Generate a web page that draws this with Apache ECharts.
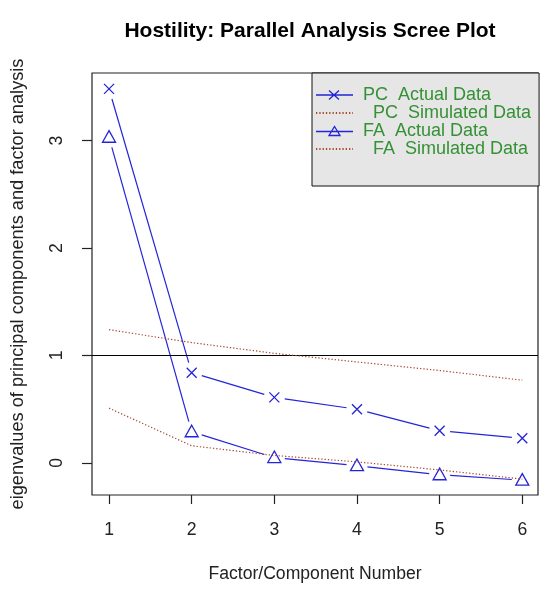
<!DOCTYPE html>
<html>
<head>
<meta charset="utf-8">
<script src="https://cdn.jsdelivr.net/npm/echarts@6/dist/echarts.min.js"></script>
<style>html,body{margin:0;padding:0;background:#fff}#c{width:550px;height:592px}</style>
</head>
<body>
<div id="c"></div>
<script>
const factors = [1, 2, 3, 4, 5, 6];
const pcActual = [3.48, 0.84, 0.61, 0.50, 0.30, 0.23];
const pcSimulated = [1.24, 1.12, 1.02, 0.94, 0.86, 0.77];
const faActual = [3.03, 0.29, 0.05, -0.025, -0.11, -0.16];
const faSimulated = [0.51, 0.16, 0.07, 0.01, -0.065, -0.15];
const xTicks = [1, 2, 3, 4, 5, 6];
const yTicks = [0, 1, 2, 3];
const seriesNames = [' PC  Actual Data', '   PC  Simulated Data', ' FA  Actual Data', '   FA  Simulated Data'];

const BLUE = '#2424d8';
const RED = '#a8482c';
const GREEN = '#359135';
const FONT = 'Liberation Sans, Arial, sans-serif';
const GAP = 10.5;

const pairs = ys => factors.map((x, i) => [x, ys[i]]);

function markerShape(kind, p) {
  const st = {stroke: BLUE, lineWidth: 1.3, fill: 'none'};
  if (kind === 'cross') {
    const r = 5;
    return {type: 'path', shape: {pathData: `M${p[0]-r},${p[1]-r}L${p[0]+r},${p[1]+r}M${p[0]+r},${p[1]-r}L${p[0]-r},${p[1]+r}`}, style: st};
  }
  const w = 6.5, h = 11;
  return {type: 'polygon', shape: {points: [[p[0], p[1]-h*0.6], [p[0]+w, p[1]+h*0.45], [p[0]-w, p[1]+h*0.45]]}, style: st};
}

function gappedRenderer(ys, kind) {
  return function (params, api) {
    const i = params.dataIndex;
    const p = api.coord([api.value(0), api.value(1)]);
    const children = [markerShape(kind, p)];
    if (i < ys.length - 1) {
      const q = api.coord([factors[i + 1], ys[i + 1]]);
      const dx = q[0] - p[0], dy = q[1] - p[1];
      const len = Math.sqrt(dx * dx + dy * dy);
      if (len > 2 * GAP) {
        const ux = dx / len, uy = dy / len;
        children.push({
          type: 'line',
          shape: {x1: p[0] + ux * GAP, y1: p[1] + uy * GAP, x2: q[0] - ux * GAP, y2: q[1] - uy * GAP},
          style: {stroke: BLUE, lineWidth: 1.2}
        });
      }
    }
    return {type: 'group', children};
  };
}

const chart = echarts.init(document.getElementById('c'), null, {renderer: 'canvas'});
chart.setOption({
  backgroundColor: '#ffffff',
  animation: false,
  title: {
    text: 'Hostility: Parallel Analysis Scree Plot',
    left: 310, top: 21, padding: 0, textAlign: 'center',
    textStyle: {fontFamily: FONT, fontSize: 21, fontWeight: 'bold', color: '#000'}
  },
  grid: {left: 92, right: 12, top: 73, bottom: 97, show: true, borderColor: '#222', borderWidth: 1.2, backgroundColor: 'transparent'},
  legend: {
    data: [
      {name: seriesNames[0], icon: 'path://M0,6L37,6M13,1.5L23,10.5M23,1.5L13,10.5', itemStyle: {color: 'transparent', borderColor: BLUE, borderWidth: 1.3}},
      {name: seriesNames[1], itemStyle: {color: 'transparent', borderColor: 'transparent', borderWidth: 0}},
      {name: seriesNames[2], icon: 'path://M0,6L37,6M13,10L18.5,1L24,10Z', itemStyle: {color: 'transparent', borderColor: BLUE, borderWidth: 1.3}},
      {name: seriesNames[3], itemStyle: {color: 'transparent', borderColor: 'transparent', borderWidth: 0}}
    ],
    orient: 'vertical',
    left: 312, top: 73,
    padding: [13, 8, 28, 3],
    itemGap: 0,
    itemWidth: 37, itemHeight: 14,
    backgroundColor: '#e6e6e6',
    borderColor: '#111', borderWidth: 1,
    borderRadius: 0,
    selectedMode: false,
    textStyle: {fontFamily: FONT, fontSize: 18, color: GREEN, lineHeight: 17.7}
  },
  xAxis: {
    type: 'value', min: 0.794, max: 6.19,
    name: 'Factor/Component Number', nameLocation: 'middle', nameGap: 70,
    nameTextStyle: {fontFamily: FONT, fontSize: 17.6, color: '#222'},
    axisLine: {show: false, onZero: false},
    axisTick: {show: true, length: 9, customValues: xTicks, lineStyle: {color: '#222', width: 1.2}},
    axisLabel: {customValues: xTicks, margin: 26, fontFamily: FONT, fontSize: 17.6, color: '#222'},
    splitLine: {show: false}
  },
  yAxis: {
    type: 'value', min: -0.298, max: 3.628,
    name: 'eigenvalues of principal components and factor analysis', nameLocation: 'middle', nameGap: 65, nameRotate: 90,
    nameTextStyle: {fontFamily: FONT, fontSize: 18.2, color: '#222'},
    axisLine: {show: false, onZero: false},
    axisTick: {show: true, length: 10, customValues: yTicks, lineStyle: {color: '#222', width: 1.2}},
    axisLabel: {customValues: yTicks, rotate: 90, margin: 26, fontFamily: FONT, fontSize: 17.6, color: '#222'},
    splitLine: {show: false}
  },
  series: [
    {
      name: seriesNames[0], type: 'custom', data: pairs(pcActual), z: 2,
      encode: {x: 0, y: 1},
      itemStyle: {color: BLUE},
      renderItem: gappedRenderer(pcActual, 'cross')
    },
    {
      name: seriesNames[1], type: 'line', data: pairs(pcSimulated), z: 5,
      symbol: 'none', showSymbol: false,
      lineStyle: {color: RED, width: 1.2, type: [1.3, 2]},
      itemStyle: {color: RED},
      markLine: {
        silent: true, symbol: 'none', label: {show: false},
        lineStyle: {color: '#000', width: 1.2, type: 'solid'},
        data: [{yAxis: 1}]
      }
    },
    {
      name: seriesNames[2], type: 'custom', data: pairs(faActual), z: 2,
      encode: {x: 0, y: 1},
      itemStyle: {color: BLUE},
      renderItem: gappedRenderer(faActual, 'triangle')
    },
    {
      name: seriesNames[3], type: 'line', data: pairs(faSimulated), z: 5,
      symbol: 'none', showSymbol: false,
      lineStyle: {color: RED, width: 1.2, type: [1.3, 2]},
      itemStyle: {color: RED}
    }
  ]
});
</script>
</body>
</html>
